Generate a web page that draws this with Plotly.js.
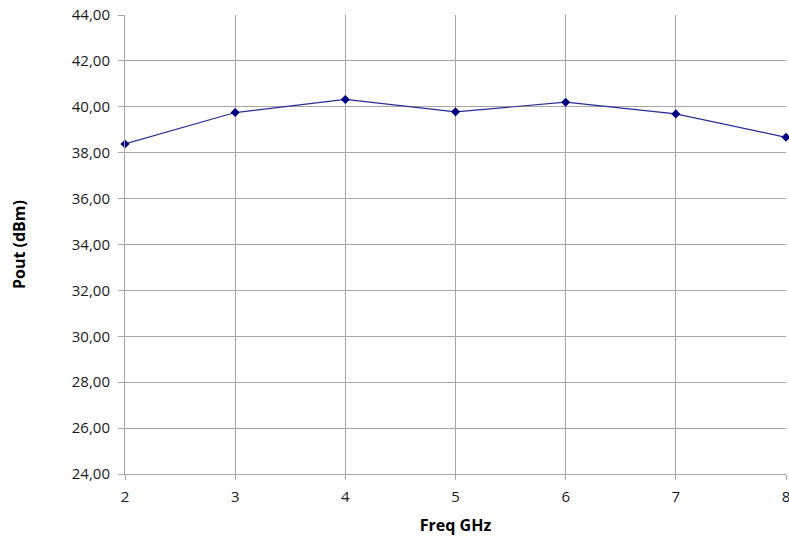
<!DOCTYPE html>
<html>
<head>
<meta charset="utf-8">
<script src="https://cdn.plot.ly/plotly-3.0.1.min.js"></script>
<style>html,body{margin:0;padding:0;background:#fff;}#chart{width:789px;height:536px;}</style>
</head>
<body>
<div id="chart"></div>
<script>
var freqGHz = [2, 3, 4, 5, 6, 7, 8];
var poutDbm = [38.38, 39.75, 40.32, 39.78, 40.20, 39.69, 38.67];
var yTicks = [24, 26, 28, 30, 32, 34, 36, 38, 40, 42, 44];

var trace = {
  x: freqGHz,
  y: poutDbm,
  type: 'scatter',
  mode: 'lines+markers',
  line: {color: '#2a2a95', width: 1.2},
  marker: {symbol: 'diamond', size: 7, color: '#000080'},
  cliponaxis: false,
  hoverinfo: 'skip'
};

var layout = {
  width: 789,
  height: 536,
  margin: {l: 125, r: 3, t: 15, b: 62},
  paper_bgcolor: '#ffffff',
  plot_bgcolor: '#ffffff',
  separators: ', ',
  showlegend: false,
  font: {family: '"Open Sans", Lato, sans-serif', size: 15, color: '#1a1a1a'},
  xaxis: {
    range: [2, 8],
    tickvals: freqGHz,
    ticktext: freqGHz.map(String),
    showgrid: true,
    gridcolor: '#a6a6a6',
    gridwidth: 1,
    zeroline: false,
    showline: true,
    linecolor: '#a6a6a6',
    linewidth: 1,
    ticks: 'outside',
    ticklen: 5,
    tickcolor: '#a6a6a6',
    ticklabelstandoff: 4,
    ticklabeloverflow: 'allow',
    tickfont: {size: 15, color: '#1a1a1a'},
    title: {text: 'Freq GHz', font: {size: 16, color: '#000', weight: 'bold'}, standoff: 14}
  },
  yaxis: {
    range: [24, 44],
    tickvals: yTicks,
    tickformat: '.2f',
    showgrid: true,
    gridcolor: '#a6a6a6',
    gridwidth: 1,
    zeroline: false,
    showline: true,
    linecolor: '#a6a6a6',
    linewidth: 1,
    ticks: 'outside',
    ticklen: 6,
    tickcolor: '#a6a6a6',
    ticklabelstandoff: 5,
    ticklabeloverflow: 'allow',
    tickfont: {size: 15, color: '#1a1a1a'},
    title: {text: 'Pout (dBm)', font: {size: 16, color: '#000', weight: 'bold'}, standoff: 42}
  }
};

Plotly.newPlot('chart', [trace], layout, {staticPlot: true, displayModeBar: false});
</script>
</body>
</html>
